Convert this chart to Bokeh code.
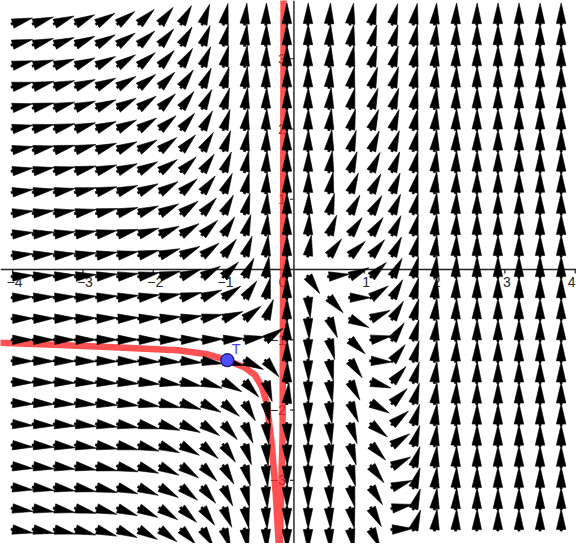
import math
from bokeh.plotting import figure
from bokeh.embed import file_html
from bokeh.resources import INLINE
from bokeh.core.properties import value

# ---------------- data ----------------
# grid points of the direction field (arrow tails)
grid_x = [-4.0, -3.7, -3.4, -3.1, -2.8, -2.5, -2.2, -1.9, -1.6, -1.3, -1.0, -0.7, -0.4, -0.1,
          0.2, 0.5, 0.8, 1.1, 1.4, 1.7, 2.0, 2.3, 2.6, 2.9, 3.2, 3.5, 3.8]
grid_y = [-3.7, -3.4, -3.1, -2.8, -2.5, -2.2, -1.9, -1.6, -1.3, -1.0, -0.7, -0.4, -0.1,
          0.2, 0.5, 0.8, 1.1, 1.4, 1.7, 2.0, 2.3, 2.6, 2.9, 3.2, 3.5]

# estimated field: y' = (y - y0(x)) / x^2, y0 = curve of horizontal arrows
left_level = -1.0      # y0 for x < 0
left_dip_a = 0.05
left_dip_k = 0.3
right_c = 0.0199       # y0 = -c * exp(b x) for x > 0
right_b = 3.75

# solution curve through T
sol_x = [-4.25, -4.172, -3.331, -2.489, -1.648, -1.227, -0.947, -0.708, -0.554, -0.456,
         -0.400, -0.358, -0.316, -0.259, -0.217, -0.203,
         -0.189, -0.161, -0.154, -0.147, -0.147]
sol_y = [-1.038, -1.043, -1.073, -1.108, -1.150, -1.206, -1.290, -1.389, -1.501, -1.669,
         -1.851, -2.132, -2.482, -3.184, -3.899, -4.165,
         -3.464, -2.342, 0.0, 3.829, 4.2]

point_T = (-0.947, -1.29)

x_ticks = [-4, -3, -2, -1, 1, 2, 3, 4]
x_tick_labels = ["−4", "−3", "−2", "−1", "1", "2", "3", "4"]
y_ticks = [-3, -2, -1, 1, 2, 3]
y_tick_labels = ["−3", "−2", "−1", "1", "2", "3"]

# ---------------- layout ----------------
PX = 71.3                      # reference pixels per unit
W, H = 576, 543
x_start, x_end = -297.5 / PX, (584 - 297.5) / PX
y_start, y_end = (273 - 551) / PX, 273 / PX

p = figure(width=W, height=H, x_range=(x_start, x_end), y_range=(y_start, y_end),
           output_backend="svg", toolbar_location=None,
           x_axis_type=None, y_axis_type=None, min_border=0)
p.outline_line_color = None
p.background_fill_color = "white"
p.border_fill_color = "white"

# axes
axis_col = "#202020"
p.line([x_start, x_end], [0, 0], line_color=axis_col, line_width=1.6)
p.line([0, 0], [y_start, y_end], line_color="#3a3a3a", line_width=1.6)
tk = 4 / PX
p.segment(x0=x_ticks, y0=[0] * len(x_ticks), x1=x_ticks, y1=[-tk] * len(x_ticks),
          line_color=axis_col, line_width=1.2)
p.segment(x0=[0] * len(y_ticks), y0=y_ticks, x1=[-tk] * len(y_ticks), y1=y_ticks,
          line_color=axis_col, line_width=1.2)

lab_font = value("Liberation Sans")
lab_col = "#2a2a2a"
p.text(x=[t + 2 / PX for t in x_ticks[:-1]], y=[-7.5 / PX] * (len(x_ticks) - 1),
       text=x_tick_labels[:-1],
       text_font=lab_font, text_font_size="14px", text_align="center",
       text_baseline="top", text_color=lab_col)
p.text(x=[x_end - 1 / PX], y=[-7.5 / PX], text=[x_tick_labels[-1]],
       text_font=lab_font, text_font_size="14px", text_align="right",
       text_baseline="top", text_color=lab_col)
p.text(x=[-8 / PX] * len(y_ticks), y=y_ticks, text=y_tick_labels,
       text_font=lab_font, text_font_size="14px", text_align="right",
       text_baseline="middle", text_color=lab_col)
p.text(x=[-7.5 / PX], y=[-7.5 / PX], text=["0"], text_font=lab_font, text_font_size="14px",
       text_align="right", text_baseline="top", text_color=lab_col)

# solution curve
p.line(sol_x, sol_y, line_color="#ff2020", line_alpha=0.78, line_width=6.5)


# direction field arrows
def null_y(x):
    if x < 0:
        return left_level - left_dip_a * math.exp(-left_dip_k / x)
    return -right_c * math.exp(right_b * x)


def slope(x, y):
    return (y - null_y(x)) / (x * x)


L = 20.9 / PX
hw = 4.8 / PX
sw = 1.1 / PX
sl = 1.6 / PX
xs, ys = [], []
for gx in grid_x:
    for gy in grid_y:
        th = math.atan(slope(gx, gy))
        ux, uy = math.cos(th), math.sin(th)
        nx, ny = -uy, ux
        pts = [
            (gx + nx * hw, gy + ny * hw),
            (gx + ux * L, gy + uy * L),
            (gx - nx * hw, gy - ny * hw),
            (gx - nx * sw, gy - ny * sw),
            (gx - nx * sw - ux * sl, gy - ny * sw - uy * sl),
            (gx + nx * sw - ux * sl, gy + ny * sw - uy * sl),
            (gx + nx * sw, gy + ny * sw),
        ]
        xs.append([q[0] for q in pts])
        ys.append([q[1] for q in pts])
p.patches(xs, ys, fill_color="black", line_color="black", line_width=0.6)

# point T
p.scatter([point_T[0]], [point_T[1]], size=13, fill_color="#4d4dff",
          line_color="#1c1c70", line_width=1.2)
p.text(x=[point_T[0] + 9 / PX], y=[point_T[1] + 12 / PX], text=["T"],
       text_font=lab_font, text_font_size="15px", text_align="center",
       text_baseline="alphabetic", text_color="#4d4dff")

open("out.html", "w").write(file_html(p, INLINE))
